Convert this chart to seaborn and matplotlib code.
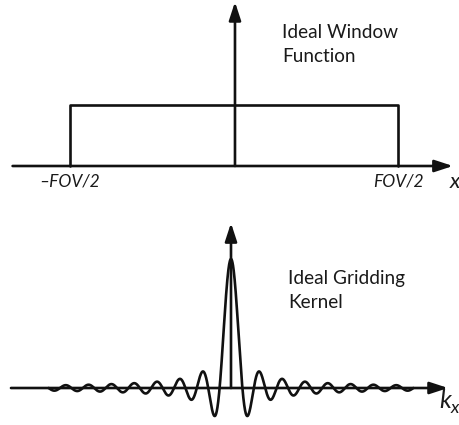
import numpy as np
import pandas as pd
import matplotlib
matplotlib.use("Agg")
import matplotlib.pyplot as plt
import seaborn as sns

# Window function: a box between -FOV/2 and +FOV/2 (x in units of FOV/2)
window_x = [-1.0, -1.0, 1.0, 1.0]
window_y = [0.0, 1.0, 1.0, 0.0]
edge_labels = ["\u2013FOV/2", "FOV/2"]
edge_positions = [-1.0, 1.0]

# Gridding kernel: sinc, truncated at its 16th zero crossing on each side
kernel_peak = 1.0
kernel_extent = 16

kernel_k = np.linspace(-kernel_extent, kernel_extent, 3201)
kernel_val = kernel_peak * np.sinc(kernel_k)

window_df = pd.DataFrame({"x": window_x, "y": window_y})
kernel_df = pd.DataFrame({"k": kernel_k, "val": kernel_val})

sns.set_theme(style="white")
plt.rcParams["font.family"] = ["Lato", "DejaVu Sans"]

W, H = 460, 425
fig = plt.figure(figsize=(W / 100, H / 100), dpi=100)
ax_top = fig.add_axes([0, (H - 200) / H, 1, 200 / H])
ax_bot = fig.add_axes([0, 0, 1, 225 / H])

LW = 1.9
INK = "#111111"
TEXT = "#1a1a1a"


def axis_arrow(ax, start, end):
    ax.annotate(
        "", xy=end, xytext=start,
        arrowprops=dict(arrowstyle="-|>,head_length=0.55,head_width=0.18",
                        lw=LW, color=INK, shrinkA=0, shrinkB=0,
                        mutation_scale=20),
    )


# ---- top: ideal window function ----
ax = ax_top
ax.set_xlim(-1.4268, 1.3780)
ax.set_ylim(-0.5574, 2.7213)
sns.lineplot(data=window_df, x="x", y="y", ax=ax, sort=False, estimator=None,
             color=INK, lw=LW)
axis_arrow(ax, (-1.35, 0), (1.335, 0))
axis_arrow(ax, (0.006, 0), (0.006, 2.69))
for lab, pos in zip(edge_labels, edge_positions):
    ax.text(pos, -0.344, lab, ha="center", va="baseline", fontsize=12.5,
            style="italic", color=TEXT)
ax.text(1.317, -0.36, "x", ha="left", va="baseline", fontsize=16,
        style="italic", color=TEXT)
ax.text(0.293, 2.098, "Ideal Window", ha="left", va="baseline",
        fontsize=13.7, color=TEXT)
ax.text(0.293, 1.705, "Function", ha="left", va="baseline",
        fontsize=13.7, color=TEXT)

# ---- bottom: ideal gridding kernel ----
ax = ax_bot
ax.set_xlim(-20.263, 20.088)
ax.set_ylim(-0.2868, 1.4574)
sns.lineplot(data=kernel_df, x="k", y="val", ax=ax, sort=False,
             estimator=None, color=INK, lw=LW)
axis_arrow(ax, (-19.30, 0), (19.04, 0))
axis_arrow(ax, (0, 0), (0, 1.279))
ax.text(18.25, -0.155, "k", ha="left", va="baseline", fontsize=18,
        style="italic", color=TEXT)
ax.text(19.25, -0.194, "x", ha="left", va="baseline", fontsize=13,
        style="italic", color=TEXT)
ax.text(5.0, 0.806, "Ideal Gridding", ha="left", va="baseline",
        fontsize=13.7, color=TEXT)
ax.text(5.0, 0.620, "Kernel", ha="left", va="baseline",
        fontsize=13.7, color=TEXT)

for ax in (ax_top, ax_bot):
    ax.set_axis_off()

fig.savefig("out.png", dpi=100)
